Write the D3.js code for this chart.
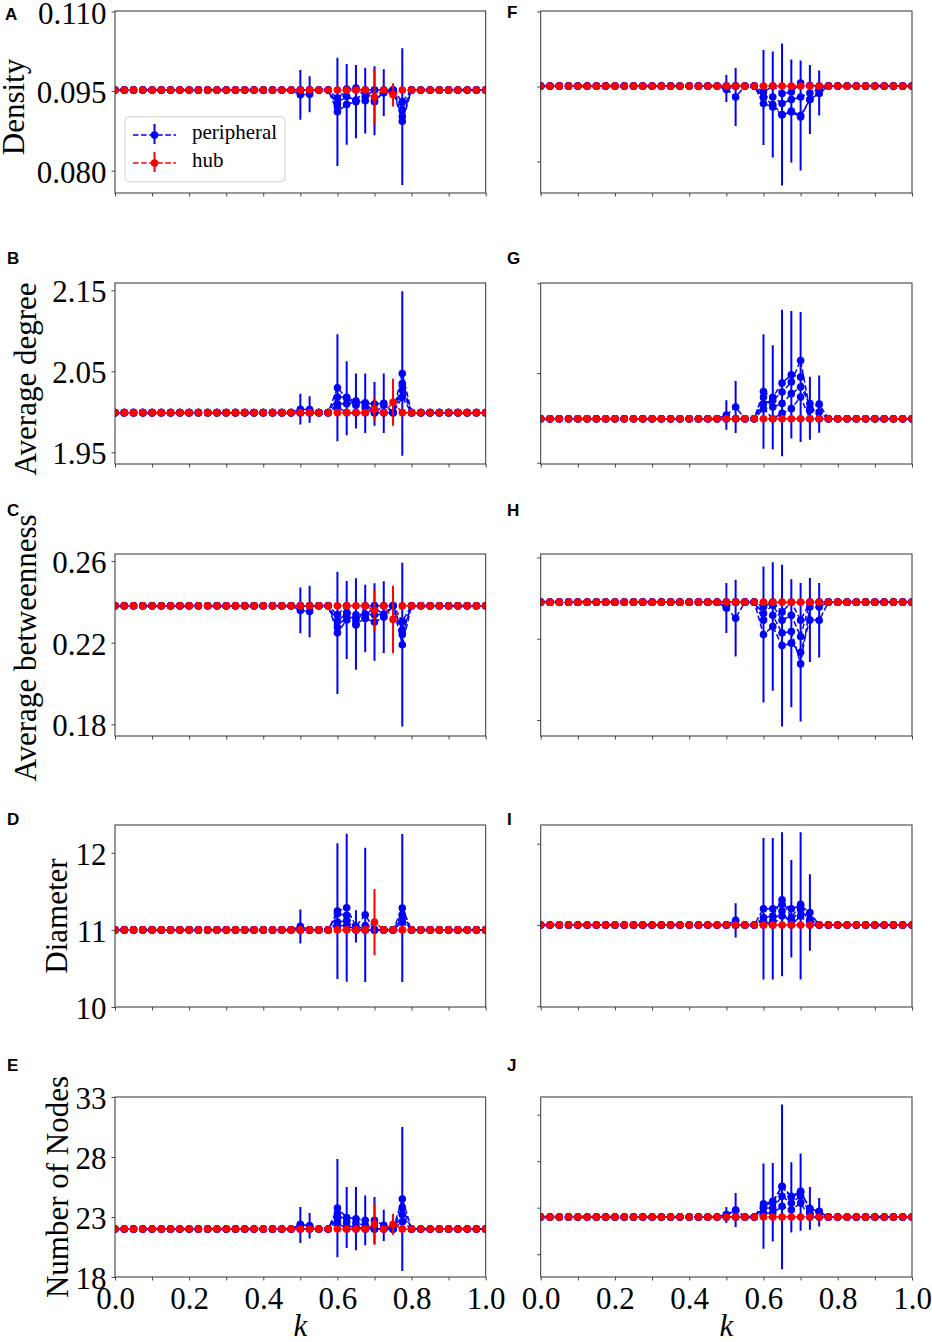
<!DOCTYPE html>
<html>
<head>
<meta charset="utf-8">
<script src="https://cdn.jsdelivr.net/npm/d3@7"></script>
<style>
  body { margin: 0; background: #fff; }
  svg { display: block; }
</style>
</head>
<body>
<svg id="fig" width="932" height="1342"></svg>
<script>
// ---- data ----------------------------------------------------------------
// k grid of the x axis
const kValues = [0, 0.025, 0.05, 0.075, 0.1, 0.125, 0.15, 0.175, 0.2, 0.225,
  0.25, 0.275, 0.3, 0.325, 0.35, 0.375, 0.4, 0.425, 0.45, 0.475, 0.5, 0.525,
  0.55, 0.575, 0.6, 0.625, 0.65, 0.675, 0.7, 0.725, 0.75, 0.775, 0.8, 0.825,
  0.85, 0.875, 0.9, 0.925, 0.95, 0.975, 1];
// window where runs leave the unperturbed value; outside it every run sits on the baseline
const kActive = [0.5, 0.525, 0.55, 0.575, 0.6, 0.625, 0.65, 0.675, 0.7, 0.725, 0.75, 0.775];
const xTicks = [0, 0.1, 0.2, 0.3, 0.4, 0.5, 0.6, 0.7, 0.8, 0.9, 1.0];
const xTickLabels = [0, 0.2, 0.4, 0.6, 0.8, 1.0];

// y tick values per metric
const ticksDensity = [0.080, 0.095, 0.110];
const ticksDegree = [1.95, 2.05, 2.15];
const ticksBetween = [0.18, 0.22, 0.26];
const ticksDiameter = [10, 11, 12];
const ticksNodes = [18, 23, 28, 33];

// A - Density
const baseA = 0.0952;
const periphA = [
  [0.0943, 0.0944, 0.0952, 0.0952, 0.0911, 0.0925, 0.0930, 0.0932, 0.0932, 0.0947, 0.0952, 0.0902],
  [0.0952, 0.0952, 0.0952, 0.0952, 0.0921, 0.0954, 0.0956, 0.0940, 0.0952, 0.0952, 0.0952, 0.0893],
  [0.0952, 0.0952, 0.0952, 0.0952, 0.0927, 0.0940, 0.0933, 0.0952, 0.0930, 0.0950, 0.0952, 0.0915],
  [0.0952, 0.0952, 0.0952, 0.0952, 0.0937, 0.0952, 0.0952, 0.0952, 0.0952, 0.0952, 0.0952, 0.0930]];
const periphErrA = [0.0047, 0.0034, 0, 0, 0.0102, 0.0076, 0.0069, 0.0062, 0.0065, 0.0044, 0, 0.0129];
const hubA = [0.0952, 0.0952, 0.0952, 0.0952, 0.0952, 0.0952, 0.0952, 0.0952, 0.0939, 0.0952, 0.0943, 0.0952];
const hubErrA = [0, 0, 0, 0, 0, 0, 0, 0, 0.0052, 0, 0.0022, 0];

// B - Average degree
const baseB = 1.999;
const periphB = [
  [2.0032, 2.0028, 1.999, 1.999, 2.0297, 2.0167, 2.0133, 2.0106, 2.0097, 2.0106, 1.999, 2.0473],
  [1.999, 1.999, 1.999, 1.999, 2.0183, 2.0180, 2.0080, 2.0110, 1.999, 1.999, 1.999, 2.0350],
  [1.999, 1.999, 1.999, 1.999, 2.0100, 2.0100, 2.0110, 2.0050, 1.999, 2.0080, 1.999, 2.0180],
  [1.999, 1.999, 1.999, 1.999, 2.0060, 1.999, 1.999, 1.999, 1.999, 1.999, 1.999, 2.0270]];
const periphErrB = [0.019, 0.0164, 0, 0, 0.0659, 0.0456, 0.0339, 0.0366, 0.027, 0.0366, 0, 0.1016];
const hubB = [1.999, 1.999, 1.999, 1.999, 1.999, 1.999, 1.999, 1.999, 2.0032, 1.999, 2.0118, 1.999];
const hubErrB = [0, 0, 0, 0, 0, 0, 0, 0, 0.014, 0, 0.029, 0];

// C - Average betweenness
const baseC = 0.2381;
const periphC = [
  [0.2358, 0.2352, 0.2381, 0.2381, 0.2248, 0.2311, 0.2291, 0.2318, 0.2301, 0.2325, 0.2381, 0.2190],
  [0.2381, 0.2381, 0.2381, 0.2381, 0.2303, 0.2347, 0.2336, 0.2340, 0.2336, 0.2340, 0.2381, 0.2303],
  [0.2381, 0.2381, 0.2381, 0.2381, 0.2275, 0.2330, 0.2310, 0.2325, 0.2381, 0.2327, 0.2381, 0.2260],
  [0.2381, 0.2381, 0.2381, 0.2381, 0.2336, 0.2381, 0.2287, 0.2381, 0.2381, 0.2381, 0.2381, 0.2240]];
const periphErrC = [0.0112, 0.0126, 0, 0, 0.0299, 0.0191, 0.0224, 0.0165, 0.019, 0.0176, 0, 0.0401];
const hubC = [0.2381, 0.2381, 0.2381, 0.2381, 0.2381, 0.2381, 0.2381, 0.2381, 0.2358, 0.2381, 0.2313, 0.2381];
const hubErrC = [0, 0, 0, 0, 0, 0, 0, 0, 0.0104, 0, 0.0165, 0];

// D - Diameter
const baseD = 11;
const periphD = [
  [11.045, 11, 11, 11, 11.244, 11.287, 11.045, 11.195, 11, 11, 11, 11.283],
  [11, 11, 11, 11, 11.21, 11.19, 11, 11.056, 11, 11, 11, 11.20],
  [11, 11, 11, 11, 11.10, 11.12, 11, 11, 11, 11, 11, 11.15],
  [11, 11, 11, 11, 11.05, 11.06, 11, 11, 11, 11, 11, 11.10]];
const periphErrD = [0.22, 0, 0, 0, 0.88, 0.96, 0.21, 0.87, 0, 0, 0, 0.96];
const hubD = [11, 11, 11, 11, 11, 11, 11, 11, 11.1, 11, 11, 11];
const hubErrD = [0, 0, 0, 0, 0, 0, 0, 0, 0.43, 0, 0, 0];

// E - Number of Nodes
const baseE = 22;
const periphE = [
  [22.33, 22.27, 22, 22, 23.74, 22.96, 22.86, 22.72, 22.72, 22.31, 22, 24.5],
  [22.39, 22.25, 22, 22, 23.3, 22.6, 22.5, 22.3, 22.0, 22, 22, 23.8],
  [22, 22, 22, 22, 22.9, 22.2, 22.2, 22, 22, 22, 22, 23.2],
  [22, 22, 22, 22, 22.5, 22, 22, 22, 22, 22, 22, 22.6]];
const periphErrE = [1.5, 1.07, 0, 0, 4.1, 2.54, 2.64, 2.08, 1.94, 1.3, 0, 6.0];
const hubE = [22, 22, 22, 22, 22, 22, 22, 22, 22.42, 22, 22.39, 22];
const hubErrE = [0, 0, 0, 0, 0, 0, 0, 0, 1.74, 0, 0.875, 0];

// F - Density
const baseF = 0.0951;
const periphF = [
  [0.0946, 0.0929, 0.0951, 0.0951, 0.0928, 0.0914, 0.0894, 0.0901, 0.0892, 0.0924, 0.0937, 0.0951],
  [0.0944, 0.0951, 0.0951, 0.0951, 0.0916, 0.0909, 0.0893, 0.0899, 0.0889, 0.0924, 0.0936, 0.0951],
  [0.0951, 0.0951, 0.0951, 0.0951, 0.0929, 0.0929, 0.0916, 0.0924, 0.0929, 0.0937, 0.0946, 0.0951],
  [0.0951, 0.0951, 0.0951, 0.0951, 0.0939, 0.0951, 0.0936, 0.0939, 0.0957, 0.0952, 0.0951, 0.0951]];
const periphErrF = [0.0027, 0.0058, 0, 0, 0.0095, 0.0106, 0.0142, 0.0103, 0.011, 0.0069, 0.0045, 0];
const hubF = [0.0951, 0.0951, 0.0951, 0.0951, 0.0951, 0.0951, 0.0951, 0.0951, 0.0951, 0.0951, 0.0951, 0.0951];
const hubErrF = [0, 0, 0, 0, 0, 0, 0, 0, 0, 0, 0, 0];

// G - Average degree
const baseG = 1.999;
const periphG = [
  [2.0032, 2.0121, 1.999, 1.999, 2.0294, 2.0229, 2.0389, 2.0480, 2.0455, 2.0107, 2.0153, 1.999],
  [1.999, 1.999, 1.999, 1.999, 2.0159, 2.0196, 2.0288, 2.0400, 2.0640, 2.0085, 2.0066, 1.999],
  [1.999, 1.999, 1.999, 1.999, 2.0232, 2.0121, 2.0159, 2.0270, 2.0344, 2.0159, 1.999, 1.999],
  [1.999, 1.999, 1.999, 1.999, 2.0103, 1.999, 2.0050, 2.0103, 2.0232, 1.999, 1.999, 1.999]];
const periphErrG = [0.0164, 0.029, 0, 0, 0.0637, 0.058, 0.0817, 0.0711, 0.0725, 0.035, 0.032, 0];
const hubG = [1.999, 1.999, 1.999, 1.999, 1.999, 1.999, 1.999, 1.999, 1.999, 1.999, 1.999, 1.999];
const hubErrG = [0, 0, 0, 0, 0, 0, 0, 0, 0, 0, 0, 0];

// H - Average betweenness
const baseH = 0.238;
const periphH = [
  [0.2351, 0.2301, 0.238, 0.238, 0.2221, 0.2260, 0.2166, 0.2178, 0.2133, 0.2292, 0.2291, 0.238],
  [0.2356, 0.238, 0.238, 0.238, 0.2291, 0.2315, 0.2228, 0.2235, 0.2076, 0.2356, 0.2356, 0.238],
  [0.238, 0.238, 0.238, 0.238, 0.2324, 0.2365, 0.2291, 0.2315, 0.2211, 0.238, 0.238, 0.238],
  [0.238, 0.238, 0.238, 0.238, 0.2357, 0.238, 0.2332, 0.238, 0.2291, 0.238, 0.238, 0.238]];
const periphErrH = [0.0123, 0.0189, 0, 0, 0.0335, 0.0316, 0.0398, 0.0315, 0.0341, 0.0207, 0.0183, 0];
const hubH = [0.238, 0.238, 0.238, 0.238, 0.238, 0.238, 0.238, 0.238, 0.238, 0.238, 0.238, 0.238];
const hubErrH = [0, 0, 0, 0, 0, 0, 0, 0, 0, 0, 0, 0];

// I - Diameter
const baseI = 11;
const periphI = [
  [11, 11.056, 11, 11, 11.2, 11.2, 11.255, 11.2, 11.235, 11.153, 11, 11],
  [11, 11, 11, 11, 11.09, 11.11, 11.31, 11.09, 11.255, 11.07, 11, 11],
  [11, 11, 11, 11, 11, 11.05, 11.17, 11, 11.11, 11, 11, 11],
  [11, 11, 11, 11, 11.05, 11, 11.11, 11.05, 11.19, 11.05, 11, 11]];
const periphErrI = [0, 0.21, 0, 0, 0.87, 0.87, 0.885, 0.6, 0.905, 0.47, 0, 0];
const hubI = [11, 11, 11, 11, 11, 11, 11, 11, 11, 11, 11, 11];
const hubErrI = [0, 0, 0, 0, 0, 0, 0, 0, 0, 0, 0, 0];

// J - Number of Nodes
const baseJ = 22;
const periphJ = [
  [22.21, 22.75, 22, 22, 23.16, 23.59, 25.24, 24.11, 24.67, 22.92, 22.52, 22],
  [22.25, 22.71, 22, 22, 23.43, 23.68, 25.3, 24.22, 24.76, 22.86, 22.6, 22],
  [22, 22, 22, 22, 22.97, 22.97, 24.22, 23.5, 24.22, 22.4, 22, 22],
  [22, 22, 22, 22, 22.43, 22.43, 23.14, 22.78, 23.5, 22, 22, 22]];
const periphErrJ = [0.86, 1.83, 0, 0, 4.58, 4.22, 8.86, 3.77, 4.15, 2.3, 1.53, 0];
const hubJ = [22, 22, 22, 22, 22, 22, 22, 22, 22, 22, 22, 22];
const hubErrJ = [0, 0, 0, 0, 0, 0, 0, 0, 0, 0, 0, 0];

// ---- layout --------------------------------------------------------------
const colX = [[115, 485.7], [540.7, 912]];
const rowY = [[11, 193], [283, 464], [554, 736], [825, 1007], [1097, 1277]];
const serif = "'Liberation Serif', 'Times New Roman', serif";
const blue = "#0000ff";
const red = "#ff0000";

const panels = [
  { id: "A", col: 0, row: 0, base: baseA, periph: periphA, err: periphErrA, hub: hubA, hubErr: hubErrA,
    domain: [0.0758, 0.1101], ticks: ticksDensity, fmt: d3.format(".3f"),
    ylabel: "Density", labelX: 24, labelY: 107, letter: [5, 20], legend: true },
  { id: "B", col: 0, row: 1, base: baseB, periph: periphB, err: periphErrB, hub: hubB, hubErr: hubErrB,
    domain: [1.9356, 2.159], ticks: ticksDegree, fmt: d3.format(".2f"),
    ylabel: "Average degree", labelX: 36, labelY: 379, letter: [7, 264] },
  { id: "C", col: 0, row: 2, base: baseC, periph: periphC, err: periphErrC, hub: hubC, hubErr: hubErrC,
    domain: [0.1743, 0.2634], ticks: ticksBetween, fmt: d3.format(".2f"),
    ylabel: "Average betweenness", labelX: 36, labelY: 648, letter: [7, 516] },
  { id: "D", col: 0, row: 3, base: baseD, periph: periphD, err: periphErrD, hub: hubD, hubErr: hubErrD,
    domain: [10.0, 12.36], ticks: ticksDiameter, fmt: d3.format("d"),
    ylabel: "Diameter", labelX: 67, labelY: 916, letter: [7, 825] },
  { id: "E", col: 0, row: 4, base: baseE, periph: periphE, err: periphErrE, hub: hubE, hubErr: hubErrE,
    domain: [18, 33], ticks: ticksNodes, fmt: d3.format("d"),
    ylabel: "Number of Nodes", labelX: 68, labelY: 1187, letter: [7, 1071] },
  { id: "F", col: 1, row: 0, base: baseF, periph: periphF, err: periphErrF, hub: hubF, hubErr: hubErrF,
    domain: [0.0737, 0.1101], ticks: ticksDensity, letter: [507, 18] },
  { id: "G", col: 1, row: 1, base: baseG, periph: periphG, err: periphErrG, hub: hubG, hubErr: hubErrG,
    domain: [1.9486, 2.1503], ticks: ticksDegree, letter: [507, 264] },
  { id: "H", col: 1, row: 2, base: baseH, periph: periphH, err: periphErrH, hub: hubH, hubErr: hubErrH,
    domain: [0.1721, 0.2617], ticks: ticksBetween, letter: [507, 516] },
  { id: "I", col: 1, row: 3, base: baseI, periph: periphI, err: periphErrI, hub: hubI, hubErr: hubErrI,
    domain: [9.99, 12.23], ticks: ticksDiameter, letter: [507, 825] },
  { id: "J", col: 1, row: 4, base: baseJ, periph: periphJ, err: periphErrJ, hub: hubJ, hubErr: hubErrJ,
    domain: [15.55, 34.9], ticks: ticksNodes, letter: [507, 1071] }
];

const svg = d3.select("#fig");
const i0 = kValues.indexOf(kActive[0]);

// expand a window array onto the full k grid (baseline outside the window)
const expand = (arr, base, errs) => kValues.map((k, i) => {
  const j = i - i0;
  const inWin = j >= 0 && j < kActive.length;
  return { k, v: inWin ? arr[j] : base, e: inWin && errs ? errs[j] : 0 };
});

const drawSeries = (g, x, y, pts, color) => {
  g.append("path")
    .datum(pts)
    .attr("fill", "none")
    .attr("stroke", color)
    .attr("stroke-width", 1.5)
    .attr("stroke-dasharray", "5.5,2.6")
    .attr("d", d3.line().x(d => x(d.k)).y(d => y(d.v)));

  g.selectAll(null)
    .data(pts.filter(d => d.e > 0))
    .join("line")
    .attr("x1", d => x(d.k)).attr("x2", d => x(d.k))
    .attr("y1", d => y(d.v - d.e)).attr("y2", d => y(d.v + d.e))
    .attr("stroke", color)
    .attr("stroke-width", 2);

  g.selectAll(null)
    .data(pts)
    .join("circle")
    .attr("cx", d => x(d.k))
    .attr("cy", d => y(d.v))
    .attr("r", 3.8)
    .attr("fill", color);
};

const drawPanel = (p) => {
  const [x0, x1] = colX[p.col];
  const [y0, y1] = rowY[p.row];
  const bottomRow = p.row === 4;

  const x = d3.scaleLinear().domain([0, 1]).range([x0, x1]);
  const y = d3.scaleLinear().domain(p.domain).range([y1, y0]);

  const g = svg.append("g");

  g.append("clipPath").attr("id", "clip" + p.id)
    .append("rect")
    .attr("x", x0).attr("y", y0)
    .attr("width", x1 - x0).attr("height", y1 - y0);

  // axes
  const xAxis = d3.axisBottom(x)
    .tickValues(xTicks)
    .tickSize(3.5)
    .tickPadding(6)
    .tickFormat(d => bottomRow && xTickLabels.some(t => Math.abs(t - d) < 1e-9) ? d3.format(".1f")(d) : "");
  const gx = g.append("g").attr("transform", `translate(0,${y1})`).call(xAxis);

  const yAxis = d3.axisLeft(y)
    .tickValues(p.ticks)
    .tickSize(3.5)
    .tickPadding(5)
    .tickFormat(p.col === 0 ? p.fmt : () => "");
  const gy = g.append("g").attr("transform", `translate(${x0},0)`).call(yAxis);

  [gx, gy].forEach(a => {
    a.select(".domain").remove();
    a.selectAll(".tick line").attr("stroke", "#333").attr("stroke-width", 0.9);
    a.selectAll(".tick text")
      .attr("font-family", serif)
      .attr("font-size", 31)
      .attr("fill", "#000");
  });
  gy.selectAll(".tick text").attr("dy", "0.37em");
  gx.selectAll(".tick text").attr("dy", "0.71em");

  // data
  const plot = g.append("g").attr("clip-path", `url(#clip${p.id})`);
  p.periph.forEach((arr, si) => {
    drawSeries(plot, x, y, expand(arr, p.base, si === 0 ? p.err : null), blue);
  });
  drawSeries(plot, x, y, expand(p.hub, p.base, p.hubErr), red);

  // frame
  g.append("rect")
    .attr("x", x0).attr("y", y0)
    .attr("width", x1 - x0).attr("height", y1 - y0)
    .attr("fill", "none")
    .attr("stroke", "#333")
    .attr("stroke-width", 1);

  // y label
  if (p.ylabel) {
    g.append("text")
      .attr("transform", `translate(${p.labelX},${p.labelY}) rotate(-90)`)
      .attr("text-anchor", "middle")
      .attr("font-family", serif)
      .attr("font-size", 31)
      .text(p.ylabel);
  }

  // x label on bottom row
  if (bottomRow) {
    g.append("text")
      .attr("x", (x0 + x1) / 2)
      .attr("y", 1336)
      .attr("text-anchor", "middle")
      .attr("font-family", serif)
      .attr("font-style", "italic")
      .attr("font-size", 31)
      .text("k");
  }

  // panel letter
  g.append("text")
    .attr("x", p.letter[0]).attr("y", p.letter[1])
    .attr("font-family", "'Liberation Sans', Arial, sans-serif")
    .attr("font-weight", "bold")
    .attr("font-size", 17)
    .text(p.id);

  if (p.legend) drawLegend(g);
};

// legend inside panel A
const drawLegend = (g) => {
  const lx = 125, ly = 116.7, lw = 160, lh = 65;
  g.append("rect")
    .attr("x", lx).attr("y", ly)
    .attr("width", lw).attr("height", lh)
    .attr("rx", 4)
    .attr("fill", "#fff")
    .attr("fill-opacity", 0.85)
    .attr("stroke", "#d0d0d0")
    .attr("stroke-width", 1);

  const items = [{ label: "peripheral", color: blue, cy: 135 }, { label: "hub", color: red, cy: 163 }];
  const it = g.selectAll(".legend-item")
    .data(items)
    .join("g")
    .attr("class", "legend-item");

  it.append("line")
    .attr("x1", 133).attr("x2", 176)
    .attr("y1", d => d.cy).attr("y2", d => d.cy)
    .attr("stroke", d => d.color)
    .attr("stroke-width", 1.5)
    .attr("stroke-dasharray", "5.5,2.6");
  it.append("line")
    .attr("x1", 154.5).attr("x2", 154.5)
    .attr("y1", d => d.cy - 11).attr("y2", d => d.cy + 9)
    .attr("stroke", d => d.color)
    .attr("stroke-width", 2);
  it.append("circle")
    .attr("cx", 154.5).attr("cy", d => d.cy)
    .attr("r", 3.8)
    .attr("fill", d => d.color);
  it.append("text")
    .attr("x", 192)
    .attr("y", d => d.cy + 4)
    .attr("font-family", serif)
    .attr("font-size", 21)
    .text(d => d.label);
};

panels.forEach(drawPanel);
</script>
</body>
</html>
